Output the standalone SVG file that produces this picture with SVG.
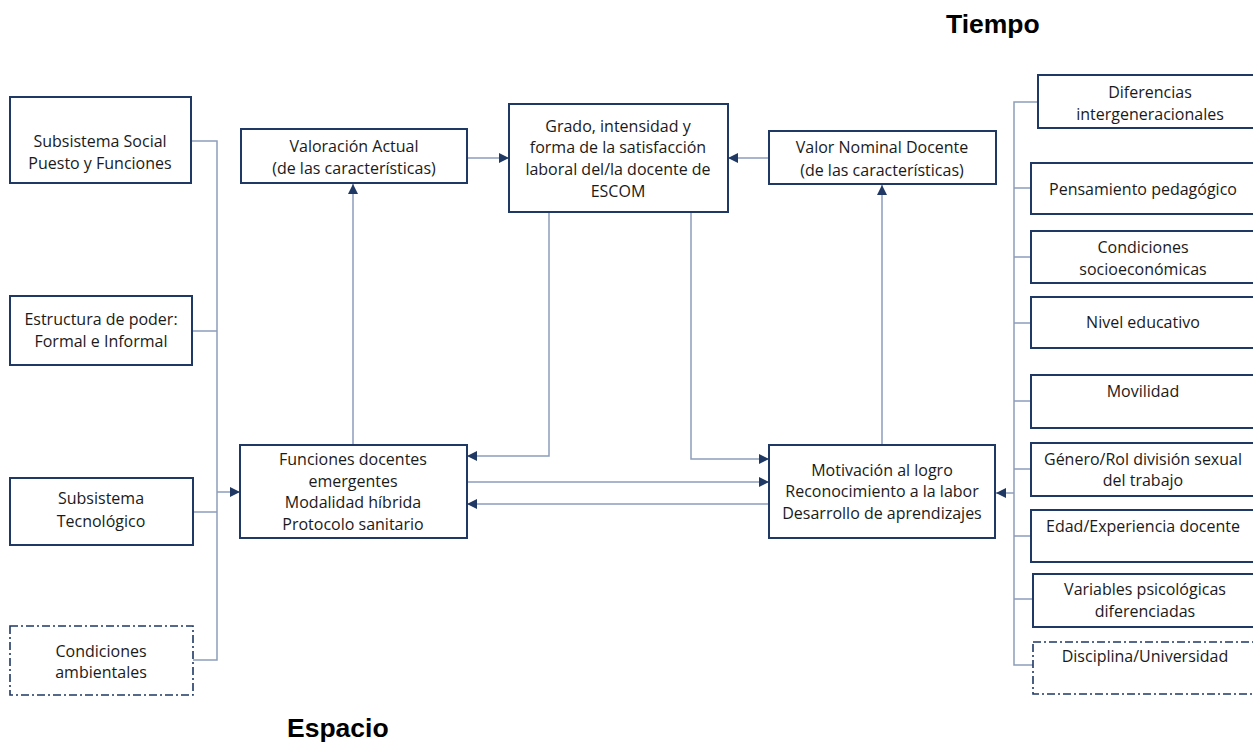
<svg xmlns="http://www.w3.org/2000/svg" width="1253" height="743" viewBox="0 0 1253 743">
  <defs>
    <marker id="arrow" viewBox="0 0 10 10" refX="10" refY="5" markerWidth="10" markerHeight="10" markerUnits="userSpaceOnUse" orient="auto">
      <path d="M0,0 L10,5 L0,10 z" fill="#1f3864"/>
    </marker>
    <style>
      .box { fill: #ffffff; stroke: #203864; stroke-width: 2; }
      .dash { fill: #ffffff; stroke: #203864; stroke-width: 1.6; stroke-dasharray: 8 3 2 3; }
      .lbl { font-family: "Open Sans", "Liberation Sans", sans-serif; font-size: 16px; fill: #1a1a1a; text-anchor: middle; }
      .title { font-family: "Liberation Sans", Arial, sans-serif; font-size: 26.5px; font-weight: bold; fill: #000000; }
      .wire { fill: none; stroke: #8c9dbb; stroke-width: 1.5; }
      .wire-arrow { fill: none; stroke: #8c9dbb; stroke-width: 1.5; marker-end: url(#arrow); }
    </style>
  </defs>
  <rect width="1253" height="743" fill="#ffffff"/>

  <!-- Titles -->
  <text class="title" x="946" y="33">Tiempo</text>
  <text class="title" x="287" y="737">Espacio</text>

  <!-- Connectors -->
  <g id="connectors">
    <!-- left bus -->
    <path class="wire" d="M191,141 H217 V660 H193"/>
    <path class="wire" d="M192,331 H217"/>
    <path class="wire" d="M193,512 H217"/>
    <path class="wire-arrow" d="M217,492 H240"/>
    <!-- up to Valoración -->
    <path class="wire-arrow" d="M353,445 V184"/>
    <!-- into Grado -->
    <path class="wire-arrow" d="M467,158 H509"/>
    <path class="wire-arrow" d="M769,158 H728"/>
    <!-- down from Grado -->
    <path class="wire-arrow" d="M549,213 V456 H467"/>
    <path class="wire-arrow" d="M691,213 V459 H769"/>
    <!-- between Funciones and Motivación -->
    <path class="wire-arrow" d="M467,482 H769"/>
    <path class="wire-arrow" d="M769,504 H467"/>
    <!-- up to Valor Nominal -->
    <path class="wire-arrow" d="M882,445 V185"/>
    <!-- right bus -->
    <path class="wire" d="M1038,102 H1014 V665 H1033"/>
    <path class="wire" d="M1014,188 H1031"/>
    <path class="wire" d="M1014,257 H1031"/>
    <path class="wire" d="M1014,323 H1031"/>
    <path class="wire" d="M1014,401 H1031"/>
    <path class="wire" d="M1014,469 H1031"/>
    <path class="wire" d="M1014,536 H1031"/>
    <path class="wire" d="M1014,599 H1033"/>
    <path class="wire-arrow" d="M1014,493 H996"/>
  </g>

  <!-- Left column -->
  <g id="subsistema-social">
    <rect class="box" x="10" y="97" width="181" height="86"/>
    <text class="lbl" x="100" y="147">Subsistema Social</text>
    <text class="lbl" x="100" y="169">Puesto y Funciones</text>
  </g>
  <g id="estructura-poder">
    <rect class="box" x="10" y="296" width="182" height="69"/>
    <text class="lbl" x="101" y="325">Estructura de poder:</text>
    <text class="lbl" x="101" y="347">Formal e Informal</text>
  </g>
  <g id="subsistema-tecnologico">
    <rect class="box" x="10" y="478" width="183" height="67"/>
    <text class="lbl" x="101" y="504">Subsistema</text>
    <text class="lbl" x="101" y="527">Tecnológico</text>
  </g>
  <g id="condiciones-ambientales">
    <rect class="dash" x="10" y="626" width="183" height="69"/>
    <text class="lbl" x="101" y="657">Condiciones</text>
    <text class="lbl" x="101" y="678">ambientales</text>
  </g>

  <!-- Center -->
  <g id="valoracion-actual">
    <rect class="box" x="241" y="129" width="226" height="54"/>
    <text class="lbl" x="354" y="152">Valoración Actual</text>
    <text class="lbl" x="354" y="174">(de las características)</text>
  </g>
  <g id="grado-satisfaccion">
    <rect class="box" x="509" y="104" width="219" height="108"/>
    <text class="lbl" x="618" y="132">Grado, intensidad y</text>
    <text class="lbl" x="618" y="153">forma de la satisfacción</text>
    <text class="lbl" x="618" y="175">laboral del/la docente de</text>
    <text class="lbl" x="618" y="197">ESCOM</text>
  </g>
  <g id="valor-nominal">
    <rect class="box" x="769" y="131" width="227" height="53"/>
    <text class="lbl" x="882" y="153">Valor Nominal Docente</text>
    <text class="lbl" x="882" y="176">(de las características)</text>
  </g>
  <g id="funciones-docentes">
    <rect class="box" x="240" y="445" width="227" height="93"/>
    <text class="lbl" x="353" y="465">Funciones docentes</text>
    <text class="lbl" x="353" y="487">emergentes</text>
    <text class="lbl" x="353" y="508">Modalidad híbrida</text>
    <text class="lbl" x="353" y="530">Protocolo sanitario</text>
  </g>
  <g id="motivacion">
    <rect class="box" x="769" y="445" width="226" height="93"/>
    <text class="lbl" x="882" y="476">Motivación al logro</text>
    <text class="lbl" x="882" y="497">Reconocimiento a la labor</text>
    <text class="lbl" x="882" y="519">Desarrollo de aprendizajes</text>
  </g>

  <!-- Right column -->
  <g id="diferencias">
    <rect class="box" x="1038" y="75" width="220" height="53"/>
    <text class="lbl" x="1150" y="98">Diferencias</text>
    <text class="lbl" x="1150" y="120">intergeneracionales</text>
  </g>
  <g id="pensamiento">
    <rect class="box" x="1031" y="163" width="227" height="51"/>
    <text class="lbl" x="1143" y="195">Pensamiento pedagógico</text>
  </g>
  <g id="socioeconomicas">
    <rect class="box" x="1031" y="231" width="227" height="52"/>
    <text class="lbl" x="1143" y="253">Condiciones</text>
    <text class="lbl" x="1143" y="275">socioeconómicas</text>
  </g>
  <g id="nivel-educativo">
    <rect class="box" x="1031" y="297" width="227" height="51"/>
    <text class="lbl" x="1143" y="328">Nivel educativo</text>
  </g>
  <g id="movilidad">
    <rect class="box" x="1031" y="375" width="227" height="53"/>
    <text class="lbl" x="1143" y="397">Movilidad</text>
  </g>
  <g id="genero">
    <rect class="box" x="1031" y="443" width="227" height="53"/>
    <text class="lbl" x="1143" y="465">Género/Rol división sexual</text>
    <text class="lbl" x="1143" y="486">del trabajo</text>
  </g>
  <g id="edad">
    <rect class="box" x="1031" y="510" width="227" height="52"/>
    <text class="lbl" x="1143" y="532">Edad/Experiencia docente</text>
  </g>
  <g id="variables-psicologicas">
    <rect class="box" x="1033" y="574" width="225" height="53"/>
    <text class="lbl" x="1145" y="595">Variables psicológicas</text>
    <text class="lbl" x="1145" y="617">diferenciadas</text>
  </g>
  <g id="disciplina">
    <rect class="dash" x="1033" y="642" width="225" height="52"/>
    <text class="lbl" x="1145" y="662">Disciplina/Universidad</text>
  </g>
</svg>
